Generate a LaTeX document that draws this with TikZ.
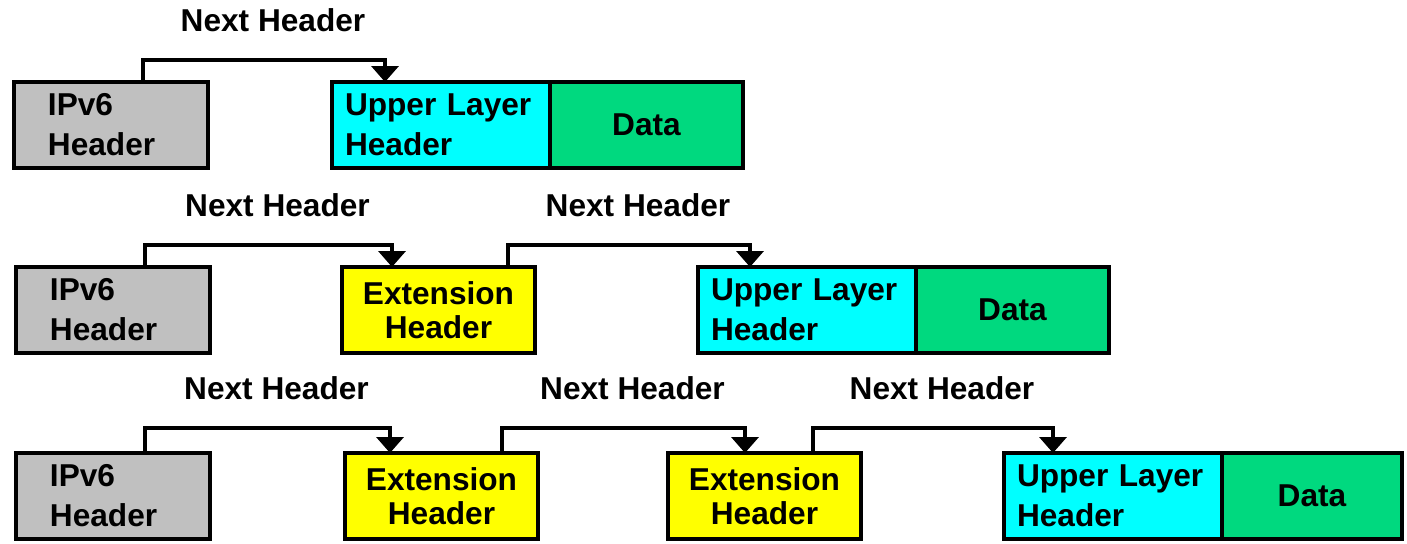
\documentclass[tikz,border=0pt]{standalone}
\usepackage{fontspec}
\setmainfont{Liberation Sans}
\usetikzlibrary{arrows.meta,positioning,calc}
\definecolor{IpGray}{HTML}{C0C0C0}
\definecolor{UpperCyan}{HTML}{00FFFF}
\definecolor{DataGreen}{HTML}{00D97F}
\definecolor{ExtYellow}{HTML}{FFFF00}

\tikzset{
  pkt/.style={draw=black,line width=2.2pt,outer sep=0pt,inner sep=0pt,anchor=north west,
    minimum height=1.72cm,font=\bfseries\fontsize{18}{22.7}\selectfont},
  ipv6/.style={pkt,fill=IpGray,minimum width=3.88cm,text width=2.52cm,align=left},
  ext/.style={pkt,fill=ExtYellow,minimum width=3.86cm,text width=3.3cm,align=center,
    font=\bfseries\fontsize{18}{19.5}\selectfont},
  upper/.style={pkt,fill=UpperCyan,minimum width=4.36cm,text width=3.84cm,align=left},
  data/.style={pkt,fill=DataGreen,minimum width=3.86cm},
  nxt/.style={line width=2.1pt,-{Triangle[width=0.54cm,length=0.32cm]}},
  lbl/.style={above=0.42cm,xshift=0.18cm,inner sep=0.1cm,font=\bfseries\fontsize{18}{22}\selectfont}
}

\begin{document}
\begin{tikzpicture}[x=0.02cm,y=-0.02cm]
  \useasboundingbox (0,0) rectangle (1407,544);
  % IPv6 -> upper layer
  \node[ipv6] (ipA) at (14,82) {IPv6\\Header};
  \node[upper] (ulA) at (332,82) {Upper Layer\\Header};
  \node[data,right=0pt of ulA] (dataA) {Data};
  \draw[nxt] ($(ipA.north west)+(129,0)$) -- ++(0,-22) -| node[lbl,pos=0.25] {Next Header} ($(ulA.north west)+(53,0)$);

  % one extension header
  \node[ipv6] (ipB) at (16,267) {IPv6\\Header};
  \node[ext] (extB) at (342,267) {Extension\\Header};
  \node[upper] (ulB) at (698,267) {Upper Layer\\Header};
  \node[data,right=0pt of ulB] (dataB) {Data};
  \draw[nxt] ($(ipB.north west)+(129,0)$) -- ++(0,-22) -| node[lbl,pos=0.25] {Next Header} ($(extB.north west)+(50,0)$);
  \draw[nxt] ($(extB.north west)+(166,0)$) -- ++(0,-22) -| node[lbl,pos=0.25] {Next Header} ($(ulB.north west)+(52,0)$);

  % two extension headers
  \node[ipv6] (ipC) at (16,453) {IPv6\\Header};
  \node[ext] (extC1) at (345,453) {Extension\\Header};
  \node[ext] (extC2) at (668,453) {Extension\\Header};
  \node[upper] (ulC) at (1004,453) {Upper Layer\\Header};
  \node[data,right=0pt of ulC,minimum width=3.6cm] (dataC) {Data};
  \draw[nxt] ($(ipC.north west)+(129,0)$) -- ++(0,-25) -| node[lbl,pos=0.25] {Next Header} ($(extC1.north west)+(45,0)$);
  \draw[nxt] ($(extC1.north west)+(157,0)$) -- ++(0,-25) -| node[lbl,pos=0.25] {Next Header} ($(extC2.north west)+(77,0)$);
  \draw[nxt] ($(extC2.north west)+(145,0)$) -- ++(0,-25) -| node[lbl,pos=0.25] {Next Header} ($(ulC.north west)+(49,0)$);
\end{tikzpicture}
\end{document}
